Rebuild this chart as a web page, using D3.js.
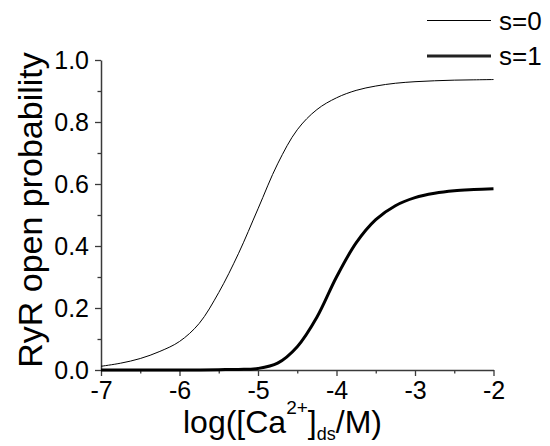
<!DOCTYPE html>
<html>
<head>
<meta charset="utf-8">
<script src="https://cdn.jsdelivr.net/npm/d3@7"></script>
<style>
  html, body { margin: 0; padding: 0; background: #fff; }
  svg { display: block; }
  text { font-family: Arial, "Liberation Sans", Helvetica, sans-serif; fill: #000; }
</style>
</head>
<body>
<svg id="chart" width="550" height="446"></svg>
<script>
// ---- data ----
const logCa = [-7, -6.75, -6.5, -6.25, -6, -5.75, -5.5, -5.25, -5, -4.75, -4.5, -4.25, -4, -3.75, -3.5, -3.25, -3, -2.75, -2.5, -2.25, -2];
const s0 = [0.012, 0.022, 0.037, 0.060, 0.092, 0.150, 0.250, 0.375, 0.520, 0.665, 0.775, 0.840, 0.878, 0.902, 0.916, 0.925, 0.930, 0.933, 0.935, 0.936, 0.937];
const s1 = [0.000, 0.000, 0.000, 0.000, 0.000, 0.000, 0.001, 0.002, 0.005, 0.022, 0.075, 0.170, 0.300, 0.410, 0.485, 0.530, 0.556, 0.570, 0.578, 0.582, 0.585];
const xMajorTicks = [-7, -6, -5, -4, -3, -2];
const xMinorTicks = [-6.5, -5.5, -4.5, -3.5, -2.5];
const yMajorTicks = [0, 0.2, 0.4, 0.6, 0.8, 1.0];
const yMinorTicks = [0.1, 0.3, 0.5, 0.7, 0.9];
const seriesNames = ["s=0", "s=1"];

// ---- layout ----
const svg = d3.select("#chart");
const x = d3.scaleLinear().domain([-7, -2]).range([101, 493.5]);
const y = d3.scaleLinear().domain([0, 1]).range([370, 60]);
const axisColor = "#3a3a3a";

// minor ticks
svg.append("g").attr("transform", `translate(${x(-7)},0)`)
  .call(d3.axisLeft(y).tickValues(yMinorTicks).tickSize(3.5).tickSizeOuter(0).tickFormat(""))
  .call(g => g.select(".domain").remove())
  .call(g => g.selectAll("line").attr("stroke", axisColor).attr("stroke-width", 1.3));
svg.append("g").attr("transform", `translate(0,${y(0)})`)
  .call(d3.axisBottom(x).tickValues(xMinorTicks).tickSize(3.5).tickSizeOuter(0).tickFormat(""))
  .call(g => g.select(".domain").remove())
  .call(g => g.selectAll("line").attr("stroke", axisColor).attr("stroke-width", 1.3));

// major axes
const yAxis = svg.append("g").attr("transform", `translate(${x(-7)},0)`)
  .call(d3.axisLeft(y).tickValues(yMajorTicks).tickSize(6).tickSizeOuter(0).tickPadding(6).tickFormat(d3.format(".1f")));
const xAxis = svg.append("g").attr("transform", `translate(0,${y(0)})`)
  .call(d3.axisBottom(x).tickValues(xMajorTicks).tickSize(6).tickSizeOuter(0).tickPadding(5).tickFormat(d => d3.format("d")(d).replace("−", "-")));
[yAxis, xAxis].forEach(g => {
  g.select(".domain").attr("stroke", axisColor).attr("stroke-width", 1.5);
  g.selectAll(".tick line").attr("stroke", axisColor).attr("stroke-width", 1.3);
  g.selectAll(".tick text").attr("font-size", 25).attr("font-family", "Arial, 'Liberation Sans', sans-serif").attr("fill", "#000");
});

// curves
const line = (vals) => d3.line().x((d, i) => x(logCa[i])).y(d => y(d)).curve(d3.curveCatmullRom.alpha(0.5))(vals);
svg.append("path").attr("d", line(s0)).attr("fill", "none").attr("stroke", "#000").attr("stroke-width", 1);
svg.append("path").attr("d", line(s1)).attr("fill", "none").attr("stroke", "#000").attr("stroke-width", 3);

// legend
const legY = [20.5, 56];
const legW = [1, 3];
seriesNames.forEach((name, i) => {
  svg.append("line").attr("x1", 427).attr("x2", 491).attr("y1", legY[i]).attr("y2", legY[i])
    .attr("stroke", i === 0 ? "#000" : "#222").attr("stroke-width", legW[i]);
  svg.append("text").attr("x", 499).attr("y", legY[i] + 9).attr("font-size", 26).text(name);
});

// y label
svg.append("text")
  .attr("transform", "translate(42,210) rotate(-90)")
  .attr("text-anchor", "middle")
  .attr("font-size", 34)
  .text("RyR open probability");

// x label
const xl = svg.append("text").attr("x", 183).attr("y", 433).attr("font-size", 32);
xl.append("tspan").text("log([Ca");
xl.append("tspan").attr("font-size", 19).attr("dy", -19).text("2+");
xl.append("tspan").attr("dy", 19).text("]");
xl.append("tspan").attr("font-size", 18).attr("dy", 7).text("ds");
xl.append("tspan").attr("dy", -7).text("/M)");
</script>
</body>
</html>
